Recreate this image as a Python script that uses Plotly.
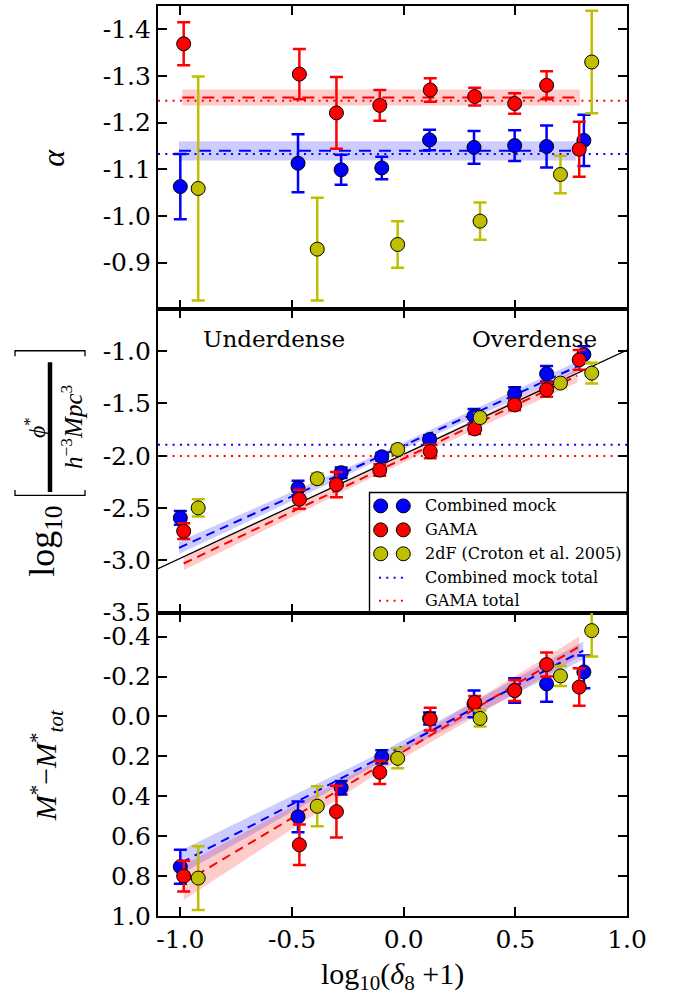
import plotly.graph_objects as go
from plotly.subplots import make_subplots

# ---------------- data ----------------
# log10(delta_8 + 1) bin centres
x_mock = [-1.0, -0.473, -0.28, -0.098, 0.116, 0.315, 0.497, 0.64, 0.807]
x_gama = [-0.985, -0.467, -0.301, -0.107, 0.119, 0.318, 0.497, 0.64, 0.786]
x_2df = [-0.92, -0.387, -0.027, 0.342, 0.702, 0.842]

# faint-end slope alpha
alpha_mock = [-1.063, -1.113, -1.099, -1.103, -1.163, -1.147, -1.151, -1.149, -1.162]
alpha_mock_err = [0.07, 0.062, 0.032, 0.024, 0.022, 0.035, 0.033, 0.045, 0.055]
alpha_gama = [-1.369, -1.304, -1.221, -1.237, -1.270, -1.256, -1.241, -1.280, -1.143]
alpha_gama_err = [0.046, 0.054, 0.077, 0.033, 0.025, 0.019, 0.022, 0.030, 0.059]
alpha_2df = [-1.059, -0.929, -0.939, -0.989, -1.089, -1.330]
alpha_2df_err = [0.24, 0.11, 0.05, 0.04, 0.04, 0.11]

# normalisation log10(phi*)
phi_mock = [-2.594, -2.308, -2.162, -2.010, -1.845, -1.622, -1.406, -1.216, -1.032]
phi_mock_err = [0.065, 0.07, 0.05, 0.04, 0.04, 0.07, 0.06, 0.075, 0.08]
phi_gama = [-2.721, -2.416, -2.276, -2.137, -1.959, -1.743, -1.514, -1.368, -1.083]
phi_gama_err = [0.075, 0.09, 0.12, 0.055, 0.065, 0.05, 0.05, 0.067, 0.095]
phi_2df = [-2.498, -2.219, -1.940, -1.635, -1.305, -1.210]
phi_2df_err = [0.083, 0.05, 0.04, 0.04, 0.04, 0.10]

# characteristic magnitude relative to the total sample
mstar_mock = [0.753, 0.503, 0.357, 0.203, 0.010, -0.063, -0.130, -0.163, -0.223]
mstar_mock_err = [0.085, 0.077, 0.034, 0.033, 0.030, 0.067, 0.062, 0.090, 0.082]
mstar_gama = [0.800, 0.643, 0.477, 0.280, 0.013, -0.070, -0.130, -0.260, -0.147]
mstar_gama_err = [0.077, 0.102, 0.130, 0.058, 0.057, 0.033, 0.052, 0.060, 0.094]
mstar_2df = [0.81, 0.45, 0.21, 0.01, -0.203, -0.43]
mstar_2df_err = [0.16, 0.10, 0.05, 0.04, 0.05, 0.13]

# mean alpha with its uncertainty band, and the whole-sample values
alpha_mock_fit_x = [-1.006, 0.771]
alpha_mock_fit = -1.140
alpha_mock_band = [-1.160, -1.119]
alpha_gama_fit_x = [-0.991, 0.789]
alpha_gama_fit = -1.254
alpha_gama_band = [-1.271, -1.237]
alpha_mock_total = -1.133
alpha_gama_total = -1.247

# linear fits of log10(phi*) with confidence bands
phi_mock_fit_x = [-1.006, -0.1, 0.797]
phi_mock_fit = [-2.88, -2.00, -1.127]
phi_mock_lo = [-2.94, -2.03, -1.175]
phi_mock_hi = [-2.82, -1.97, -1.079]
phi_gama_fit_x = [-0.985, -0.1, 0.777]
phi_gama_fit = [-3.03, -2.128, -1.235]
phi_gama_lo = [-3.095, -2.163, -1.30]
phi_gama_hi = [-2.965, -2.093, -1.17]
phi_mock_total = -1.895
phi_gama_total = -2.003
phi_prop_x = [-1.1, 1.0]
phi_prop = [-3.08, -0.99]

# linear fits of M* - M*_tot with confidence bands
mstar_mock_fit_x = [-0.996, -0.1, 0.804]
mstar_mock_fit = [0.733, 0.204, -0.33]
mstar_mock_lo = [0.67, 0.18, -0.375]
mstar_mock_hi = [0.79, 0.228, -0.285]
mstar_gama_fit_x = [-0.985, -0.1, 0.786]
mstar_gama_fit = [0.833, 0.242, -0.35]
mstar_gama_lo = [0.745, 0.212, -0.40]
mstar_gama_hi = [0.92, 0.272, -0.30]

x_ticks = [-1.0, -0.5, 0.0, 0.5, 1.0]
x_ticktext = ["-1.0", "-0.5", "0.0", "0.5", "1.0"]
alpha_ticks = [-1.4, -1.3, -1.2, -1.1, -1.0, -0.9]
alpha_ticktext = ["-1.4", "-1.3", "-1.2", "-1.1", "-1.0", "-0.9"]
phi_ticks = [-1.0, -1.5, -2.0, -2.5, -3.0, -3.5]
phi_ticktext = ["-1.0", "-1.5", "-2.0", "-2.5", "-3.0", "-3.5"]
mstar_ticks = [-0.4, -0.2, 0.0, 0.2, 0.4, 0.6, 0.8, 1.0]
mstar_ticktext = ["-0.4", "-0.2", "0.0", "0.2", "0.4", "0.6", "0.8", "1.0"]

series_names = ["Combined mock", "GAMA", "2dF (Croton et al. 2005)",
                "Combined mock total", "GAMA total"]

# ---------------- style ----------------
BLUE = "#0000ff"
RED = "#ff0000"
YEL = "#bfbf00"
BLUE_F = "rgba(0,0,255,0.2)"
RED_F = "rgba(255,0,0,0.2)"
TXT = "DejaVu Serif"
MATH = "Liberation Serif"

FW, FH = 676, 996
ML, MR, MT, MB = 158, 49, 4, 80
PW = FW - ML - MR
PH = FH - MT - MB


def fx(px):
    return (px - ML) / PW


def fy(py):
    return (FH - MB - py) / PH


fig = make_subplots(rows=3, cols=1, vertical_spacing=0)


def band(xs, lo, hi, color, row):
    fig.add_trace(go.Scatter(x=list(xs) + list(xs)[::-1], y=list(hi) + list(lo)[::-1],
                             mode="lines", fill="toself", fillcolor=color,
                             line=dict(width=0), hoverinfo="skip", showlegend=False),
                  row=row, col=1)


def line(xs, ys, color, row, dash="solid", width=2.0):
    fig.add_trace(go.Scatter(x=xs, y=ys, mode="lines",
                             line=dict(color=color, width=width, dash=dash),
                             hoverinfo="skip", showlegend=False), row=row, col=1)


def points(xs, ys, err, color, row):
    fig.add_trace(go.Scatter(x=xs, y=ys, mode="markers",
                             marker=dict(size=14, color=color, line=dict(color="black", width=1)),
                             error_y=dict(type="data", array=err, visible=True, color=color,
                                          thickness=2.5, width=6.5),
                             showlegend=False), row=row, col=1)


DOT = "2px,5.3px"
DASH_TOP = "12px,8px"
DASH = "9px,6px"
XFULL = [-1.1, 1.0]

# ---- top panel: alpha ----
band(alpha_gama_fit_x, [alpha_gama_band[0]] * 2, [alpha_gama_band[1]] * 2, RED_F, 1)
band(alpha_mock_fit_x, [alpha_mock_band[0]] * 2, [alpha_mock_band[1]] * 2, BLUE_F, 1)
line(XFULL, [alpha_gama_total] * 2, RED, 1, DOT)
line(XFULL, [alpha_mock_total] * 2, BLUE, 1, DOT)
line(alpha_gama_fit_x, [alpha_gama_fit] * 2, RED, 1, DASH_TOP)
line(alpha_mock_fit_x, [alpha_mock_fit] * 2, BLUE, 1, DASH_TOP)
points(x_mock, alpha_mock, alpha_mock_err, BLUE, 1)
points(x_gama, alpha_gama, alpha_gama_err, RED, 1)
points(x_2df, alpha_2df, alpha_2df_err, YEL, 1)

# ---- middle panel: phi* ----
band(phi_mock_fit_x, phi_mock_lo, phi_mock_hi, BLUE_F, 2)
band(phi_gama_fit_x, phi_gama_lo, phi_gama_hi, RED_F, 2)
line(XFULL, [phi_mock_total] * 2, BLUE, 2, DOT)
line(XFULL, [phi_gama_total] * 2, RED, 2, DOT)
line(phi_prop_x, phi_prop, "black", 2, "solid", 1.3)
line(phi_mock_fit_x, phi_mock_fit, BLUE, 2, DASH)
line(phi_gama_fit_x, phi_gama_fit, RED, 2, DASH)
points(x_mock, phi_mock, phi_mock_err, BLUE, 2)
points(x_gama, phi_gama, phi_gama_err, RED, 2)
points(x_2df, phi_2df, phi_2df_err, YEL, 2)

# ---- bottom panel: M* ----
band(mstar_mock_fit_x, mstar_mock_lo, mstar_mock_hi, BLUE_F, 3)
band(mstar_gama_fit_x, mstar_gama_lo, mstar_gama_hi, RED_F, 3)
line(mstar_mock_fit_x, mstar_mock_fit, BLUE, 3, DASH)
line(mstar_gama_fit_x, mstar_gama_fit, RED, 3, DASH)
points(x_mock, mstar_mock, mstar_mock_err, BLUE, 3)
points(x_gama, mstar_gama, mstar_gama_err, RED, 3)
points(x_2df, mstar_2df, mstar_2df_err, YEL, 3)

axis_style = dict(showline=True, linewidth=2.3, linecolor="black", mirror="ticks",
                  ticks="inside", ticklen=9, tickwidth=1.8, tickcolor="black",
                  showgrid=False, zeroline=False,
                  tickfont=dict(family=TXT, size=25, color="black"))

for r in (1, 2, 3):
    fig.update_xaxes(range=XFULL, tickvals=x_ticks, ticktext=x_ticktext,
                     showticklabels=(r == 3), row=r, col=1, **axis_style)

fig.update_yaxes(range=[-0.8, -1.45], tickvals=alpha_ticks, ticktext=alpha_ticktext,
                 row=1, col=1, **axis_style)
fig.update_yaxes(range=[-3.5, -0.6], tickvals=phi_ticks, ticktext=phi_ticktext,
                 row=2, col=1, **axis_style)
fig.update_yaxes(range=[1.0, -0.52], tickvals=mstar_ticks, ticktext=mstar_ticktext,
                 row=3, col=1, **axis_style)

annotations = []
shapes = []


def label(px, py, text, size, family=MATH, angle=0):
    annotations.append(dict(x=fx(px), y=fy(py), xref="paper", yref="paper",
                            xanchor="center", yanchor="middle", text=text,
                            textangle=angle, showarrow=False,
                            font=dict(family=family, size=size, color="black")))


# region labels
for tx, name in ((-0.58, "Underdense"), (0.584, "Overdense")):
    annotations.append(dict(x=tx, y=-0.885, xref="x2", yref="y2", text=name,
                            xanchor="center", yanchor="middle", showarrow=False,
                            font=dict(family=TXT, size=23, color="black")))

# axis titles
label(392, 976, "log<sub>10</sub>(<i>δ</i><sub>8</sub> +1)", 30)
label(53, 156, "<i>α</i>", 32, angle=-90)
label(46, 765, "<i>M</i><sup>*</sup>−<i>M</i><sup>*</sup><sub><i>tot</i></sub>", 30, angle=-90)
label(45, 541, "log<sub>10</sub>", 36, angle=-90)
label(35, 427, "<i>ϕ</i><sup>*</sup>", 24, angle=-90)
label(72, 426, "<i>h</i><sup>−3</sup><i>Mpc</i><sup>3</sup>", 25, angle=-90)


def ppath(pts):
    return "M " + " L ".join(f"{fx(a):.5f},{fy(b):.5f}" for a, b in pts)


shapes.append(dict(type="path", xref="paper", yref="paper",
                   path=ppath([(15, 355), (15, 349.5), (85, 349.5), (85, 355)]),
                   line=dict(color="black", width=1.3)))
shapes.append(dict(type="path", xref="paper", yref="paper",
                   path=ppath([(15, 489), (15, 494.5), (85, 494.5), (85, 489)]),
                   line=dict(color="black", width=1.3)))
shapes.append(dict(type="line", xref="paper", yref="paper", x0=fx(50), x1=fx(50),
                   y0=fy(361), y1=fy(491), line=dict(color="black", width=4.5)))

# legend box
shapes.append(dict(type="rect", xref="paper", yref="paper", layer="above",
                   x0=fx(369.5), x1=fx(627), y0=fy(491.5), y1=fy(611),
                   fillcolor="white", line=dict(color="black", width=1.4)))
row_y = [505, 529, 553, 577, 600]
for i, col in enumerate([BLUE, RED, YEL]):
    for cx in (380.7, 403.3):
        shapes.append(dict(type="circle", xref="paper", yref="paper", layer="above",
                           x0=fx(cx - 7), x1=fx(cx + 7),
                           y0=fy(row_y[i] + 7), y1=fy(row_y[i] - 7),
                           fillcolor=col, line=dict(color="black", width=1)))
for i, col in ((3, BLUE), (4, RED)):
    shapes.append(dict(type="line", xref="paper", yref="paper", layer="above",
                       x0=fx(379), x1=fx(404), y0=fy(row_y[i]), y1=fy(row_y[i]),
                       line=dict(color=col, width=2, dash=DOT)))
for i, name in enumerate(series_names):
    annotations.append(dict(x=fx(422.5), y=fy(row_y[i]), xref="paper", yref="paper",
                            xanchor="left", yanchor="middle", text=name, showarrow=False,
                            font=dict(family=TXT, size=16, color="black")))

fig.update_layout(width=FW, height=FH, margin=dict(l=ML, r=MR, t=MT, b=MB),
                  paper_bgcolor="white", plot_bgcolor="white", showlegend=False,
                  annotations=annotations, shapes=shapes)

fig.write_html("out.html")
